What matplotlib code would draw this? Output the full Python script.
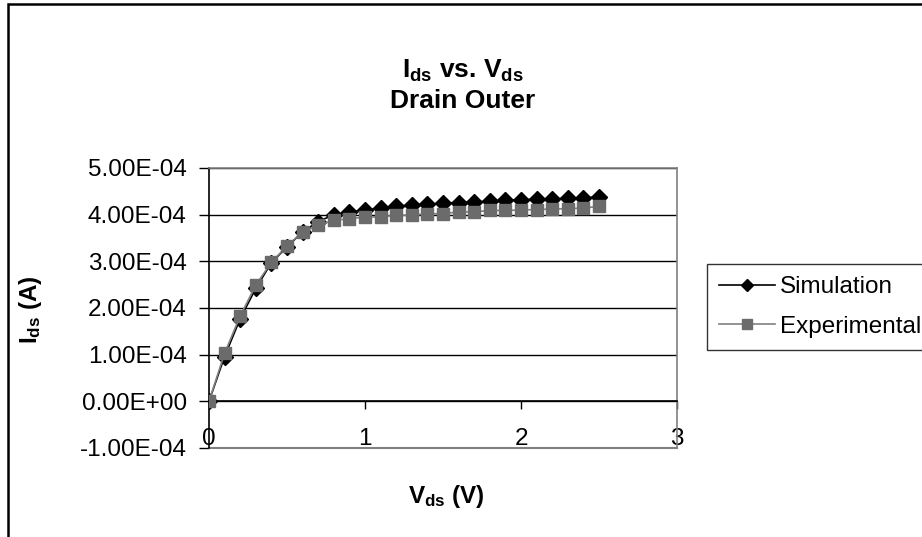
import matplotlib
matplotlib.use("Agg")
import matplotlib.pyplot as plt
from matplotlib.ticker import FuncFormatter
from matplotlib.patches import Rectangle

plt.rcParams['font.family'] = ['Liberation Sans', 'DejaVu Sans']
plt.rcParams['mathtext.fontset'] = 'custom'
plt.rcParams['mathtext.rm'] = 'Liberation Sans'
plt.rcParams['mathtext.bf'] = 'Liberation Sans:bold'
plt.rcParams['mathtext.it'] = 'Liberation Sans:italic'

# drain voltage (V)
vds = [0.0, 0.1, 0.2, 0.3, 0.4, 0.5, 0.6, 0.7, 0.8, 0.9, 1.0, 1.1, 1.2,
       1.3, 1.4, 1.5, 1.6, 1.7, 1.8, 1.9, 2.0, 2.1, 2.2, 2.3, 2.4, 2.5]
# drain current (A)
ids_sim = [0.0, 0.96e-4, 1.77e-4, 2.42e-4, 2.97e-4, 3.31e-4, 3.63e-4, 3.85e-4,
           4.00e-4, 4.06e-4, 4.10e-4, 4.14e-4, 4.18e-4, 4.21e-4, 4.22e-4,
           4.25e-4, 4.26e-4, 4.27e-4, 4.29e-4, 4.31e-4, 4.32e-4, 4.33e-4,
           4.34e-4, 4.35e-4, 4.36e-4, 4.38e-4]
ids_exp = [0.0, 1.03e-4, 1.83e-4, 2.49e-4, 2.98e-4, 3.33e-4, 3.63e-4, 3.77e-4,
           3.88e-4, 3.91e-4, 3.95e-4, 3.95e-4, 3.99e-4, 3.99e-4, 4.02e-4,
           4.02e-4, 4.06e-4, 4.06e-4, 4.09e-4, 4.09e-4, 4.10e-4, 4.11e-4,
           4.12e-4, 4.13e-4, 4.14e-4, 4.18e-4]
x_ticks = [0, 1, 2, 3]
y_ticks = [-1e-4, 0, 1e-4, 2e-4, 3e-4, 4e-4, 5e-4]

FS = 17.5
GRAY = '#808080'

fig = plt.figure(figsize=(9.22, 5.37), dpi=100)
ax = fig.add_axes([209/922, 1 - 448/537, 468/922, 280/537])

ax.plot(vds, ids_sim, color='black', lw=1.2, marker='D', ms=8.5,
        mfc='black', mec='black', label='Simulation', zorder=3)
ax.plot(vds, ids_exp, color=GRAY, lw=1.2, marker='s', ms=9,
        mfc='#6b6b6b', mec='#6b6b6b', label='Experimental', zorder=4)

ax.set_xlim(0, 3)
ax.set_ylim(-1e-4, 5e-4)
ax.set_yticks(y_ticks)
ax.set_xticks(x_ticks)
ax.yaxis.set_major_formatter(FuncFormatter(lambda v, p: f"{v:.2E}"))
for y in y_ticks[1:]:
    ax.axhline(y, color='black', lw=1, zorder=1)

# x axis crosses at zero, plot area frame is grey
ax.spines['bottom'].set_position(('data', 0))
ax.spines['bottom'].set_color('black')
ax.spines['left'].set_color('black')
ax.spines['top'].set_color(GRAY)
ax.spines['right'].set_color(GRAY)
for s in ax.spines.values():
    s.set_linewidth(1.2)
ax.axhline(-1e-4, color=GRAY, lw=1.5, clip_on=False)

ax.tick_params(axis='y', direction='out', length=7, width=1, pad=9, labelsize=FS)
ax.tick_params(axis='x', direction='out', length=6, width=1, pad=13, labelsize=FS)

fig.text(463/922, 1 - 71/537, r'$\mathbf{I_{ds}}$ vs. $\mathbf{V_{ds}}$',
         ha='center', va='center', fontsize=19, fontweight='bold')
fig.text(463/922, 1 - 101/537, 'Drain Outer', ha='center', va='center',
         fontsize=19, fontweight='bold')
fig.text(446/922, 1 - 497/537, r'$\mathbf{V_{ds}}$ (V)', ha='center', va='center',
         fontsize=FS, fontweight='bold')
fig.text(30/922, 1 - 310/537, r'$\mathbf{I_{ds}}$ (A)', ha='center', va='center',
         rotation=90, fontsize=FS, fontweight='bold')

leg = fig.legend(loc='center left', bbox_to_anchor=(707/922, 1 - 307/537),
                 fontsize=FS, frameon=True, fancybox=False, handlelength=2.3,
                 handletextpad=0.2, borderpad=0.5, labelspacing=0.7,
                 markerscale=0.75, borderaxespad=0)
leg.get_frame().set_edgecolor('black')
leg.get_frame().set_linewidth(1)

fig.patches.append(Rectangle((8/922, -0.1), 1.2, 1.1 - 4/537, transform=fig.transFigure,
                             fill=False, edgecolor='black', lw=1.8))

fig.savefig('out.png', dpi=100)
